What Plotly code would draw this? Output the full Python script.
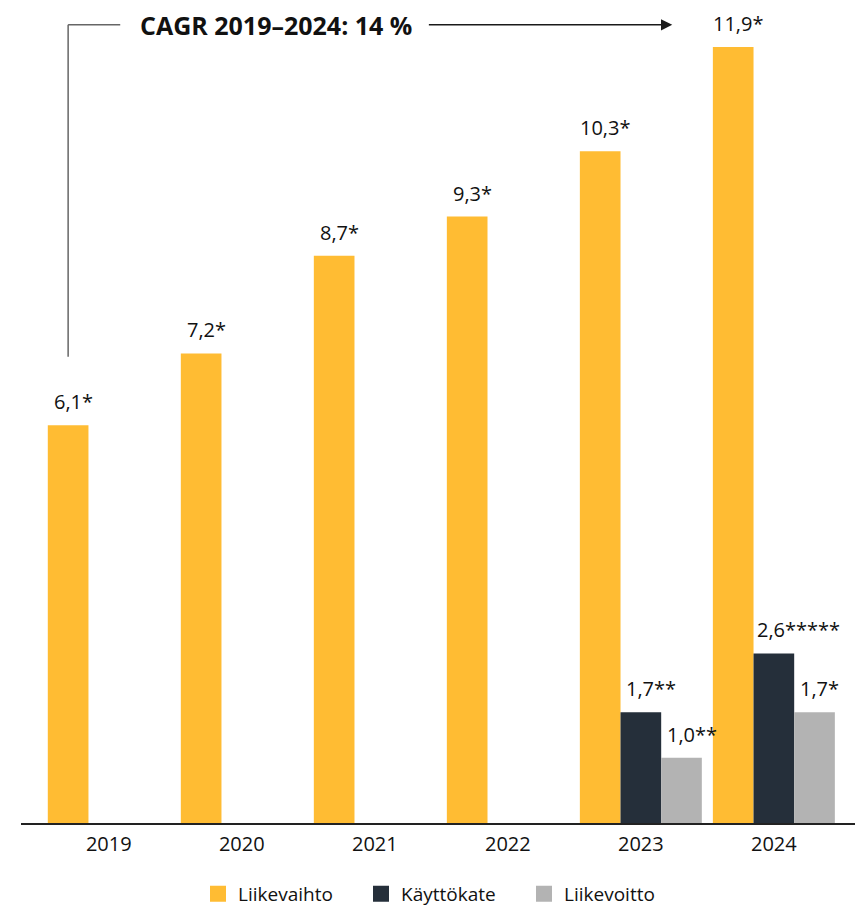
import plotly.graph_objects as go

# ---------------- data ----------------
years = ["2019", "2020", "2021", "2022", "2023", "2024"]
liikevaihto = [6.1, 7.2, 8.7, 9.3, 10.3, 11.9]
kayttokate = [None, None, None, None, 1.7, 2.6]
liikevoitto = [None, None, None, None, 1.0, 1.7]
liikevaihto_notes = ["*", "*", "*", "*", "*", "*"]
kayttokate_notes = ["", "", "", "", "**", "*****"]
liikevoitto_notes = ["", "", "", "", "**", "*"]
series_names = ["Liikevaihto", "Käyttökate", "Liikevoitto"]
colors = ["#FFBC33", "#252F3A", "#B3B3B3"]
cagr_text = "CAGR 2019–2024: 14 %"

FONT = "Open Sans"
BARGAP = 0.083
AST_W = 10.0  # approx asterisk width in px at label size

series = [liikevaihto, kayttokate, liikevoitto]
notes = [liikevaihto_notes, kayttokate_notes, liikevoitto_notes]

fig = go.Figure()
for name, vals, col in zip(series_names, series, colors):
    fig.add_trace(go.Bar(x=years, y=vals, name=name, marker=dict(color=col, line=dict(width=0)),
                         showlegend=False, hoverinfo="skip"))
# legend entries (larger square swatches)
for name, col in zip(series_names, colors):
    fig.add_trace(go.Scatter(x=[None], y=[None], mode="markers", name=name,
                             marker=dict(symbol="square", size=16, color=col, line=dict(width=0))))

annotations = []
w = (1 - BARGAP) / 3
for j, (vals, nts) in enumerate(zip(series, notes)):
    for i, (v, n) in enumerate(zip(vals, nts)):
        if v is None:
            continue
        label = f"{v:.1f}".replace(".", ",") + n
        annotations.append(dict(
            x=i + (j - 1) * w, y=v, xref="x", yref="y", text=label, showarrow=False,
            xanchor="center", yanchor="bottom", yshift=8, xshift=len(n) * AST_W / 2,
            font=dict(family=FONT, size=20, color="#111111")))

# CAGR bracket
x_start = -w            # centre of first Liikevaihto bar
y_low, y_top = 7.15, 12.24
annotations.append(dict(x=1.26, y=y_top, xref="x", yref="y", text=f"<b>{cagr_text}</b>",
                        showarrow=False, xanchor="center", yanchor="middle",
                        font=dict(family=FONT, size=25, color="#111111")))
annotations.append(dict(x=4.236, y=y_top, xref="x", yref="y", ax=2.395, ay=y_top,
                        axref="x", ayref="y", text="", showarrow=True,
                        arrowhead=2, arrowsize=1.5, arrowwidth=1.5, arrowcolor="#1a1a1a"))

shapes = [
    dict(type="line", xref="x", yref="y", x0=x_start, x1=x_start, y0=y_low, y1=y_top,
         line=dict(color="#666666", width=1.5)),
    dict(type="line", xref="x", yref="y", x0=x_start, x1=0.086, y0=y_top, y1=y_top,
         line=dict(color="#666666", width=1.5)),
]

fig.update_layout(
    width=855, height=909,
    margin=dict(l=21, r=0, t=0, b=86, autoexpand=False),
    paper_bgcolor="white", plot_bgcolor="white",
    barmode="group", bargap=BARGAP, bargroupgap=0,
    font=dict(family=FONT, size=20, color="#111111"),
    xaxis=dict(type="category", range=[-0.66, 5.61], showline=True, linecolor="#222222",
               linewidth=1.5, showgrid=False, ticks="", tickfont=dict(size=20, color="#111111"),
               ticklabelstandoff=2, fixedrange=True),
    yaxis=dict(range=[0, 12.62], showticklabels=False, showgrid=False, zeroline=False,
               showline=False, fixedrange=True),
    legend=dict(orientation="h", x=(198 - 21) / 834, xanchor="left", y=-0.086, yanchor="middle",
                entrywidth=118, entrywidthmode="pixels", font=dict(size=19, color="#111111"),
                bgcolor="rgba(0,0,0,0)", borderwidth=0, tracegroupgap=0),
    annotations=annotations, shapes=shapes,
)

fig.write_html("out.html")
